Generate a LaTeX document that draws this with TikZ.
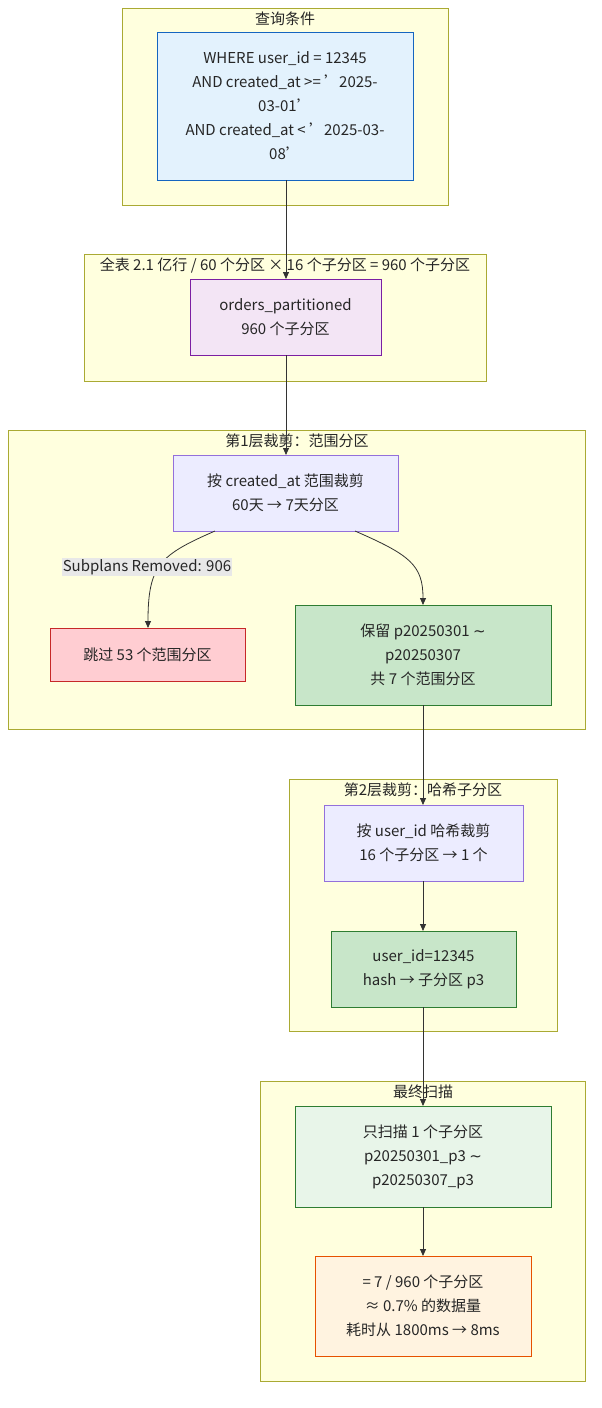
\documentclass[tikz,border=0pt]{standalone}
\usepackage{fontspec}
\setmainfont{Noto Sans CJK SC}
\newfontfamily\djv{DejaVu Sans}
\newcommand{\tld}{{\djv\char"223C}}
\newcommand{\sq}{\char"27{}}
\usetikzlibrary{arrows.meta}
\definecolor{cf}{HTML}{FFFFDE}\definecolor{cb}{HTML}{AAAA33}
\begin{document}
\begin{tikzpicture}[x=1pt,y=-1pt,
 clu/.style={draw=cb,fill=cf,line width=0.8pt},
 ct/.style={font=\fontsize{15}{16}\selectfont,text=black!85,anchor=center},
 nd/.style={draw,line width=0.8pt,font=\fontsize{15}{24}\selectfont,align=center,text=black!85},
 ar/.style={draw=black!80,line width=0.8pt,-{Triangle[length=7pt,width=6pt]}}]
\useasboundingbox (0,0) rectangle (602,1408);
\fill[white] (0,0) rectangle (602,1408);
% clusters
\draw[clu] (122,8) rectangle (448,205); \node[ct] (t1) at (285,19) {查询条件};
\draw[clu] (84,254) rectangle (486,381); \node[ct] (t2) at (285,265) {全表 2.1 亿行 / 60 个分区 × 16 个子分区 = 960 个子分区};
\draw[clu] (8,430) rectangle (585,729); \node[ct] (t3) at (297,441) {第1层裁剪：范围分区};
\draw[clu] (289,779) rectangle (557,1031); \node[ct] (t4) at (423,790) {第2层裁剪：哈希子分区};
\draw[clu] (260,1081) rectangle (585,1381); \node[ct] (t5) at (423,1092) {最终扫描};
% nodes
\path[nd,draw={rgb,255:red,21;green,101;blue,192},fill={rgb,255:red,227;green,242;blue,253}] (157,32) rectangle (413,180);
\node[nd,draw=none] (q) at (285,106) {WHERE user\_id = 12345\\AND created\_at >= \sq 2025-\\03-01\sq\\AND created\_at < \sq 2025-03-\\08\sq};
\path[nd,draw={rgb,255:red,123;green,31;blue,162},fill={rgb,255:red,243;green,229;blue,245}] (190,279) rectangle (381,355);
\node[nd,draw=none] (o) at (285.5,317) {orders\_partitioned\\960 个子分区};
\path[nd,draw={rgb,255:red,147;green,112;blue,219},fill={rgb,255:red,236;green,236;blue,255}] (173,455) rectangle (398,531);
\node[nd,draw=none] (r1) at (285.5,493) {按 created\_at 范围裁剪\\60天 → 7天分区};
\path[nd,draw={rgb,255:red,198;green,40;blue,40},fill={rgb,255:red,255;green,205;blue,210}] (50,628) rectangle (245,681);
\node[nd,draw=none] (sk) at (147.5,654.5) {跳过 53 个范围分区};
\path[nd,draw={rgb,255:red,46;green,125;blue,50},fill={rgb,255:red,200;green,230;blue,201}] (295,605) rectangle (551,705);
\node[nd,draw=none] (kp) at (423,655) {保留 p20250301 \tld\\p20250307\\共 7 个范围分区};
\path[nd,draw={rgb,255:red,147;green,112;blue,219},fill={rgb,255:red,236;green,236;blue,255}] (324,805) rectangle (523,881);
\node[nd,draw=none] (r2) at (423.5,843) {按 user\_id 哈希裁剪\\16 个子分区 → 1 个};
\path[nd,draw={rgb,255:red,46;green,125;blue,50},fill={rgb,255:red,200;green,230;blue,201}] (331,931) rectangle (516,1007);
\node[nd,draw=none] (h) at (423.5,969) {user\_id=12345\\hash → 子分区 p3};
\path[nd,draw={rgb,255:red,46;green,125;blue,50},fill={rgb,255:red,232;green,245;blue,233}] (295,1106) rectangle (551,1207);
\node[nd,draw=none] (s) at (423,1156.5) {只扫描 1 个子分区\\p20250301\_p3 \tld\\p20250307\_p3};
\path[nd,draw={rgb,255:red,230;green,81;blue,0},fill={rgb,255:red,255;green,243;blue,224}] (315,1256) rectangle (531,1356);
\node[nd,draw=none] (res) at (423,1306) {= 7 / 960 个子分区\\≈ 0.7\% 的数据量\\耗时从 1800ms → 8ms};
% edges
\coordinate (qb) at (286,180); \coordinate (ot) at (286,279);
\coordinate (ob) at (286,355); \coordinate (rt) at (286,455);
\draw[ar] (qb) -- (ot);
\draw[ar] (ob) -- (rt);
\coordinate (a1) at (215,531); \coordinate (a2) at (148,628);
\draw[ar] (a1) .. controls (160,555) and (148,565) .. (a2);
\node[fill=black!9,font=\fontsize{15}{16}\selectfont,text=black!85,inner sep=1pt] (lb) at (147,567) {Subplans Removed: 906};
\coordinate (b1) at (355,531); \coordinate (b2) at (423,605);
\draw[ar] (b1) .. controls (410,555) and (423,565) .. (b2);
\coordinate (k1) at (423,705); \coordinate (k2) at (423,805);
\draw[ar] (k1) -- (k2);
\coordinate (m1) at (423,881); \coordinate (m2) at (423,931);
\draw[ar] (m1) -- (m2);
\coordinate (n1) at (423,1007); \coordinate (n2) at (423,1106);
\draw[ar] (n1) -- (n2);
\coordinate (p1) at (423,1207); \coordinate (p2) at (423,1256);
\draw[ar] (p1) -- (p2);
\end{tikzpicture}
\end{document}
